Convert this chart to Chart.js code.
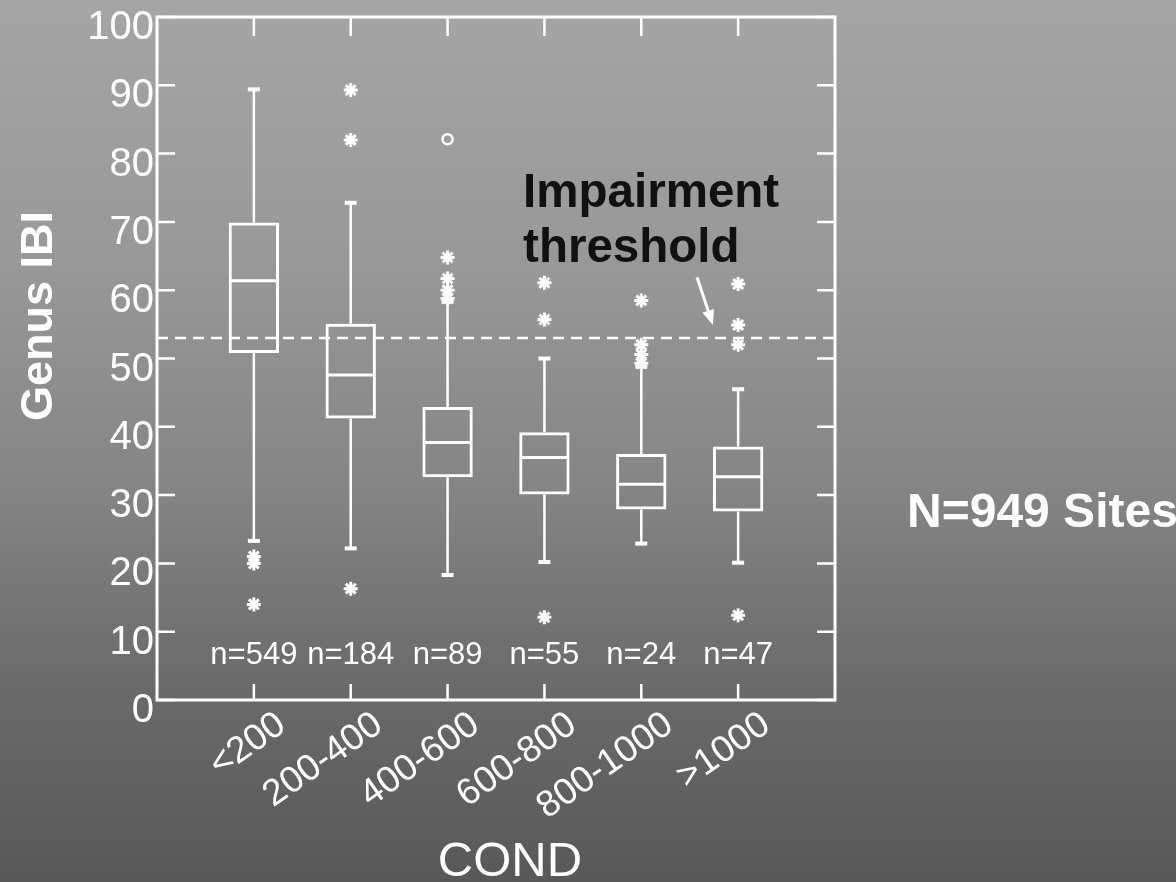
<!DOCTYPE html>
<html>
<head>
<meta charset="utf-8">
<script src="https://cdn.jsdelivr.net/npm/chart.js@4.4.1/dist/chart.umd.min.js"></script>
<style>
  html, body { margin: 0; padding: 0; background: #8a8a8a; }
  #wrap { width: 1176px; height: 882px; }
</style>
</head>
<body>
<div id="wrap"><canvas id="c" width="1176" height="882"></canvas></div>
<script>
// ---- data ----
const categories = ['<200', '200-400', '400-600', '600-800', '800-1000', '>1000'];
const nCounts = [549, 184, 89, 55, 24, 47];
const whiskerLow  = [23.3, 22.2, 18.3, 20.2, 22.9, 20.1];
const q1          = [50.8, 41.2, 32.6, 30.1, 27.9, 27.6];
const median      = [61.4, 47.6, 37.7, 35.5, 31.6, 32.7];
const q3          = [69.9, 55.1, 42.9, 39.2, 36.0, 37.1];
const whiskerHigh = [89.4, 72.8, 58.3, 50.0, 48.8, 45.5];
// outliers (asterisks): category index (1-based) and value
const outlierCat = [1, 1, 1, 2, 2, 2, 3, 3, 3, 3, 4, 4, 4, 5, 5, 5, 5, 6, 6, 6, 6];
const outlierVal = [21.0, 20.0, 14.0, 89.3, 82.0, 16.3, 64.8, 61.7, 60.0, 58.8, 61.1, 55.7, 12.1, 58.5, 52.0, 50.6, 49.3, 60.9, 54.9, 52.0, 12.4];
// far outliers (circles)
const farCat = [3];
const farVal = [82.1];
const threshold = 53;
const yTicks = [0, 10, 20, 30, 40, 50, 60, 70, 80, 90, 100];

// ---- datasets built from the arrays ----
const boxData = categories.map((c, i) => ({ x: i + 1, y: [q1[i], q3[i]] }));
const whiskerData = [];
categories.forEach((c, i) => {
  whiskerData.push({ x: i + 1, y: q3[i] }, { x: i + 1, y: whiskerHigh[i] }, { x: i + 1, y: null });
  whiskerData.push({ x: i + 1, y: q1[i] }, { x: i + 1, y: whiskerLow[i] }, { x: i + 1, y: null });
});
const capData = [];
categories.forEach((c, i) => { capData.push({ x: i + 1, y: whiskerHigh[i] }, { x: i + 1, y: whiskerLow[i] }); });
const medianData = categories.map((c, i) => ({ x: i + 1, y: median[i] }));
const outlierData = outlierCat.map((c, i) => ({ x: c, y: outlierVal[i] }));
const farData = farCat.map((c, i) => ({ x: c, y: farVal[i] }));
const thresholdData = [{ x: 0, y: threshold }, { x: categories.length + 1, y: threshold }];

const FONT = "'Liberation Sans', Arial, Helvetica, sans-serif";
const WHITE = '#ffffff';

const bgPlugin = {
  id: 'bg',
  beforeDraw(chart) {
    const { ctx, width, height } = chart;
    ctx.save();
    const g = ctx.createLinearGradient(0, 0, 0, height);
    g.addColorStop(0, '#a5a5a5');
    g.addColorStop(0.3, '#989898');
    g.addColorStop(0.55, '#858585');
    g.addColorStop(0.78, '#6a6a6a');
    g.addColorStop(1, '#585858');
    ctx.fillStyle = g;
    ctx.fillRect(0, 0, width, height);
    ctx.restore();
  }
};

const framePlugin = {
  id: 'frame',
  afterDatasetsDraw(chart) {
    const { ctx, chartArea: a, scales: { x, y } } = chart;
    ctx.save();
    ctx.strokeStyle = WHITE;
    ctx.lineWidth = 3;
    ctx.strokeRect(a.left, a.top, a.right - a.left, a.bottom - a.top);
    ctx.lineWidth = 2.5;
    ctx.beginPath();
    yTicks.forEach(v => {
      const py = y.getPixelForValue(v);
      ctx.moveTo(a.left, py); ctx.lineTo(a.left + 18, py);
      ctx.moveTo(a.right, py); ctx.lineTo(a.right - 18, py);
    });
    categories.forEach((c, i) => {
      const px = x.getPixelForValue(i + 1);
      ctx.moveTo(px, a.top); ctx.lineTo(px, a.top + 19);
      ctx.moveTo(px, a.bottom); ctx.lineTo(px, a.bottom - 16);
    });
    ctx.stroke();

    // n= labels
    ctx.fillStyle = WHITE;
    ctx.font = '31px ' + FONT;
    ctx.textAlign = 'center';
    ctx.textBaseline = 'middle';
    nCounts.forEach((n, i) => {
      ctx.fillText('n=' + n, x.getPixelForValue(i + 1), y.getPixelForValue(6.5));
    });

    // annotation text
    ctx.fillStyle = '#111111';
    ctx.font = 'bold 47.5px ' + FONT;
    ctx.textAlign = 'left';
    ctx.textBaseline = 'alphabetic';
    ctx.fillText('Impairment', x.getPixelForValue(3.78), y.getPixelForValue(72.2));
    ctx.fillText('threshold', x.getPixelForValue(3.78), y.getPixelForValue(64.2));

    // arrow
    const x0 = x.getPixelForValue(5.575), y0 = y.getPixelForValue(61.9);
    const x1 = x.getPixelForValue(5.74), y1 = y.getPixelForValue(54.9);
    const ang = Math.atan2(y1 - y0, x1 - x0);
    ctx.strokeStyle = WHITE;
    ctx.fillStyle = WHITE;
    ctx.lineWidth = 3;
    ctx.beginPath();
    ctx.moveTo(x0, y0);
    ctx.lineTo(x1 - 10 * Math.cos(ang), y1 - 10 * Math.sin(ang));
    ctx.stroke();
    ctx.beginPath();
    ctx.moveTo(x1, y1);
    ctx.lineTo(x1 - 15 * Math.cos(ang) + 6 * Math.sin(ang), y1 - 15 * Math.sin(ang) - 6 * Math.cos(ang));
    ctx.lineTo(x1 - 15 * Math.cos(ang) - 6 * Math.sin(ang), y1 - 15 * Math.sin(ang) + 6 * Math.cos(ang));
    ctx.closePath();
    ctx.fill();

    ctx.restore();
  },
  afterDraw(chart) {
    const { ctx, chartArea: a } = chart;
    ctx.save();
    ctx.fillStyle = WHITE;
    // N=949 Sites
    ctx.font = 'bold 48px ' + FONT;
    ctx.textAlign = 'left';
    ctx.textBaseline = 'alphabetic';
    ctx.fillText('N=949 Sites', a.right + 72, 527);
    // x title
    ctx.font = '49px ' + FONT;
    ctx.textAlign = 'center';
    ctx.fillText('COND', 510, 876);
    // y title
    ctx.translate(38, 316);
    ctx.rotate(-Math.PI / 2);
    ctx.font = 'bold 45px ' + FONT;
    ctx.textAlign = 'center';
    ctx.textBaseline = 'middle';
    ctx.fillText('Genus IBI', 0, 2);
    ctx.restore();
  }
};

new Chart(document.getElementById('c'), {
  data: {
    datasets: [
      {
        type: 'line', label: 'threshold', data: thresholdData,
        borderColor: WHITE, borderWidth: 2.5, borderDash: [11, 7],
        pointRadius: 0, order: 5
      },
      {
        type: 'bar', label: 'box', data: boxData,
        backgroundColor: 'rgba(0,0,0,0)', borderColor: WHITE, borderWidth: 3,
        borderSkipped: false, barPercentage: 0.52, categoryPercentage: 1, order: 4
      },
      {
        type: 'line', label: 'whiskers', data: whiskerData,
        borderColor: WHITE, borderWidth: 2.5, pointRadius: 0, spanGaps: false, order: 3
      },
      {
        type: 'scatter', label: 'caps', data: capData,
        pointStyle: 'line', pointRadius: 6, borderColor: WHITE, borderWidth: 4, order: 2
      },
      {
        type: 'scatter', label: 'median', data: medianData,
        pointStyle: 'line', pointRadius: 24, borderColor: WHITE, borderWidth: 3, order: 2
      },
      {
        type: 'scatter', label: 'outliers', data: outlierData,
        pointStyle: 'star', pointRadius: 7, borderColor: WHITE, backgroundColor: WHITE, borderWidth: 3, order: 1
      },
      {
        type: 'scatter', label: 'far', data: farData,
        pointStyle: 'circle', pointRadius: 5, borderColor: WHITE, backgroundColor: 'rgba(0,0,0,0)', borderWidth: 2.5, order: 1
      }
    ]
  },
  options: {
    responsive: false,
    animation: false,
    events: [],
    layout: { autoPadding: false, padding: { left: 0, top: 17, right: 341, bottom: 0 } },
    plugins: { legend: { display: false }, tooltip: { enabled: false } },
    scales: {
      x: {
        type: 'linear', min: 0, max: categories.length + 1, offset: false,
        grid: { display: false, drawTicks: false },
        border: { display: false },
        ticks: {
          stepSize: 1, autoSkip: false, color: WHITE,
          font: { family: FONT, size: 37 },
          minRotation: 35, maxRotation: 35, padding: 3, labelOffset: 28,
          callback: (v) => (Number.isInteger(v) && v >= 1 && v <= categories.length) ? categories[v - 1] : ''
        },
        afterFit(scale) { scale.height = 182; scale.paddingLeft = 0; scale.paddingRight = 0; scale.paddingTop = 0; scale.paddingBottom = 0; }
      },
      y: {
        type: 'linear', min: 0, max: 100,
        grid: { display: false, drawTicks: false },
        border: { display: false },
        ticks: {
          stepSize: 10, color: WHITE, padding: 3, labelOffset: 11,
          font: { family: FONT, size: 40 }
        },
        afterFit(scale) { scale.width = 157; scale.paddingTop = 0; scale.paddingBottom = 0; scale.paddingLeft = 0; scale.paddingRight = 0; }
      }
    }
  },
  plugins: [bgPlugin, framePlugin]
});
</script>
</body>
</html>
